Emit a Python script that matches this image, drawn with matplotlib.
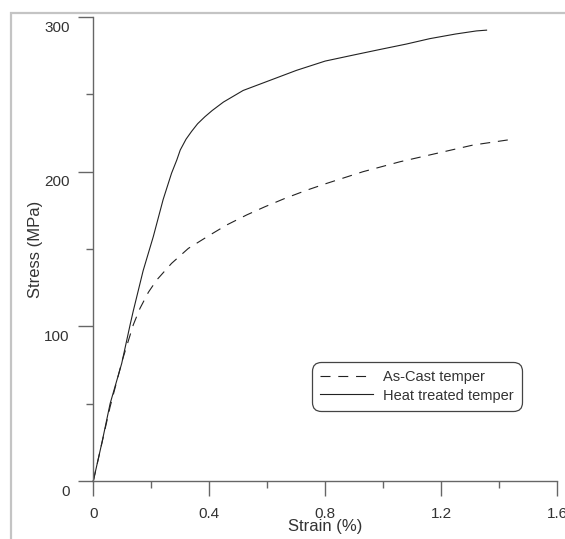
import numpy as np
import matplotlib
matplotlib.use("Agg")
import matplotlib.pyplot as plt
import matplotlib.transforms as mtransforms
from matplotlib.patches import Rectangle

plt.rcParams['font.family'] = ['Liberation Sans', 'DejaVu Sans']

# values
heat_strain = [0.0, 0.03, 0.058, 0.098, 0.127, 0.138, 0.172, 0.207, 0.241,
               0.270, 0.288, 0.30, 0.32, 0.339, 0.36, 0.385, 0.41, 0.449,
               0.517, 0.609, 0.701, 0.80, 0.90, 0.989, 1.08, 1.161, 1.25,
               1.322, 1.357]
heat_stress = [0, 25, 50, 76, 101, 110, 136, 158, 182,
               199, 207.5, 214, 221, 226, 231, 235.5, 239.5, 245,
               252.5, 259, 265.5, 271.5, 275.5, 279, 282.5, 286, 289,
               291, 291.5]

cast_strain = [0.0, 0.058, 0.10, 0.138, 0.161, 0.19, 0.219, 0.27, 0.328,
               0.402, 0.46, 0.529, 0.592, 0.661, 0.736, 0.805, 0.931, 1.058,
               1.184, 1.31, 1.448]
cast_stress = [0, 48, 78, 101, 111.6, 122, 130, 140.7, 150.4,
               159, 165.5, 172, 177.3, 182.7, 188, 192.4, 200, 206.4,
               211.8, 217.2, 221]

xticks = [0, 0.4, 0.8, 1.2, 1.6]
xtick_labels = ['0', '0.4', '0.8', '1.2', '1.6']
yticks = [0, 100, 200, 300]

txt = '#333333'
axc = '#666666'

fig = plt.figure(figsize=(5.65, 5.39), dpi=100)
W, H = 565, 539
ax = fig.add_axes([93.3 / W, (H - 481) / H, 463.7 / W, 464 / H])

# grey frame around the figure, cut off at right and bottom
fig.patches.append(Rectangle((11 / W, -0.1), 1.2, 1.1 - 13 / H,
                             transform=fig.transFigure, fill=False,
                             edgecolor='#c4c4c4', linewidth=1.6))

ax.plot(cast_strain, cast_stress, color='#222222', lw=0.8,
        dashes=(9, 7), label='As-Cast temper', clip_on=False)
ax.plot(heat_strain, heat_stress, color='#222222', lw=0.8,
        label='Heat treated temper', clip_on=False)

ax.set_xlim(0, 1.6)
ax.set_ylim(0, 300)
ax.set_xticks(xticks)
ax.set_xticklabels(xtick_labels)
ax.set_yticks(yticks)
ax.set_xticks([0.2, 0.6, 1.0, 1.4], minor=True)
ax.set_yticks([50, 150, 250], minor=True)

for s in ['top', 'right']:
    ax.spines[s].set_visible(False)
for s in ['left', 'bottom']:
    ax.spines[s].set_color(axc)
    ax.spines[s].set_linewidth(1.0)

ax.tick_params(axis='both', which='major', direction='out', length=11,
               width=1.0, color=axc, labelsize=11, labelcolor=txt)
ax.tick_params(axis='both', which='minor', direction='out', length=5,
               width=1.0, color=axc)
ax.tick_params(axis='x', which='major', pad=7.5)
ax.tick_params(axis='y', which='major', pad=6)

# y tick labels sit a little below their ticks in the reference
shift = mtransforms.ScaledTranslation(0, -9 / 100, fig.dpi_scale_trans)
for lab in ax.get_yticklabels():
    lab.set_transform(lab.get_transform() + shift)

ax.set_xlabel('Strain (%)', fontsize=12, color=txt, labelpad=-1)
ax.set_ylabel('Stress (MPa)', fontsize=12, color=txt, labelpad=1)

leg = ax.legend(loc='center', bbox_to_anchor=(0.698, 0.204), fontsize=10.5,
                handlelength=3.6, handletextpad=0.7, borderpad=0.55,
                labelspacing=0.3, fancybox=True, framealpha=1,
                edgecolor='#444444')
leg.get_frame().set_linewidth(0.9)
leg.get_frame().set_boxstyle('round', pad=0, rounding_size=0.6)
for t in leg.get_texts():
    t.set_color(txt)

fig.savefig('out.png', dpi=100)
